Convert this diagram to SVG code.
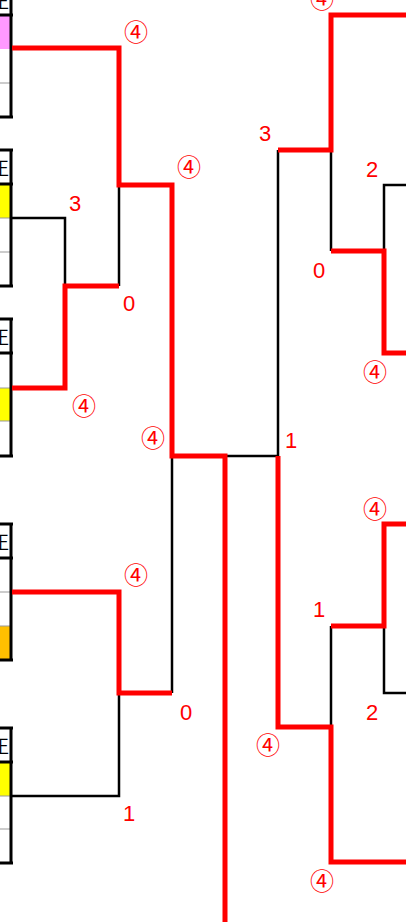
<svg xmlns="http://www.w3.org/2000/svg" width="406" height="922" viewBox="0 0 406 922">
<style>
.cell{stroke:none}
.thick{stroke:#000;stroke-width:3;fill:none}
.thin{stroke:#999;stroke-width:1;fill:none}
.win{stroke:#FF0000;stroke-width:5;fill:none;stroke-linejoin:miter;stroke-linecap:butt}
.lose{stroke:#000;stroke-width:2.5;fill:none;stroke-linecap:butt}
.sc{fill:#FF0000;font-family:"Liberation Sans","Noto Sans CJK JP",sans-serif;font-size:22px;text-anchor:middle}
.ci{fill:#FF0000;font-family:"Noto Sans CJK JP",sans-serif;font-size:24px;text-anchor:middle}
.hd{fill:#000;font-family:"Noto Sans CJK JP",sans-serif;font-size:18px}
</style>
<rect width="406" height="922" fill="#fff"/>
<g id="team1">
<rect class="cell" x="0" y="15" width="11" height="34" fill="#FF99FF"/>
<text class="hd" x="-9" y="8">正</text>
<path class="thin" d="M0,83 H11"/>
<path class="thick" d="M0,15 H13 M0,117 H13 M11,-20 V118"/>
</g>
<g id="team2">
<rect class="cell" x="0" y="184" width="11" height="34" fill="#FFFF00"/>
<text class="hd" x="-9" y="175">正</text>
<path class="thin" d="M0,218 H11 M0,252 H11"/>
<path class="thick" d="M0,150 H13 M0,184 H13 M0,286 H13 M11,150 V287"/>
</g>
<g id="team3">
<rect class="cell" x="0" y="388" width="11" height="33" fill="#FFFF00"/>
<text class="hd" x="-9" y="344">正</text>
<path class="thin" d="M0,388 H11 M0,421 H11"/>
<path class="thick" d="M0,319 H13 M0,353 H13 M0,456 H13 M11,319 V457"/>
</g>
<g id="team4">
<rect class="cell" x="0" y="626" width="11" height="34" fill="#FFC000"/>
<text class="hd" x="-9" y="549">正</text>
<path class="thin" d="M0,592 H11 M0,626 H11"/>
<path class="thick" d="M0,524 H13 M0,558 H13 M0,660 H13 M11,524 V661"/>
</g>
<g id="team5">
<rect class="cell" x="0" y="762" width="11" height="34" fill="#FFFF00"/>
<text class="hd" x="-9" y="753">正</text>
<path class="thin" d="M0,796 H11 M0,829 H11"/>
<path class="thick" d="M0,728 H13 M0,762 H13 M0,863 H13 M11,728 V864"/>
</g>
<g id="connectors">
<path class="lose" d="M12,218 H65 V286"/>
<path class="lose" d="M119,185 V286"/>
<path class="lose" d="M172,456 V693"/>
<path class="lose" d="M12,796 H119 V693"/>
<path class="lose" d="M225,456 H278 V150"/>
<path class="lose" d="M331,150 V251"/>
<path class="lose" d="M384,251 V185 H406"/>
<path class="lose" d="M331,626 V727"/>
<path class="lose" d="M384,626 V693 H406"/>
<path class="win" d="M12,48 H119 V185 H172 V456 H225 V922"/>
<path class="win" d="M12,388 H65 V286 H119"/>
<path class="win" d="M12,592 H119 V693 H172"/>
<path class="win" d="M278,456 V727 H331 V862 H406"/>
<path class="win" d="M278,150 H331 V15 H406"/>
<path class="win" d="M331,251 H384 V353 H406"/>
<path class="win" d="M331,626 H384 V524 H406"/>
</g>
<g id="labels">
<text class="ci" x="136" y="41">④</text>
<text class="ci" x="189" y="176">④</text>
<text class="sc" x="75" y="211">3</text>
<text class="sc" x="129" y="311">0</text>
<text class="ci" x="84" y="415">④</text>
<text class="ci" x="153" y="447">④</text>
<text class="ci" x="136" y="584">④</text>
<text class="sc" x="186" y="720">0</text>
<text class="sc" x="129" y="821">1</text>
<text class="ci" x="322" y="8">④</text>
<text class="sc" x="265" y="141">3</text>
<text class="sc" x="372" y="177">2</text>
<text class="sc" x="319" y="278">0</text>
<text class="ci" x="375" y="381">④</text>
<text class="sc" x="291" y="448">1</text>
<text class="ci" x="375" y="518">④</text>
<text class="sc" x="319" y="617">1</text>
<text class="sc" x="372" y="720">2</text>
<text class="ci" x="268" y="754">④</text>
<text class="ci" x="322" y="890">④</text>
</g>
</svg>
